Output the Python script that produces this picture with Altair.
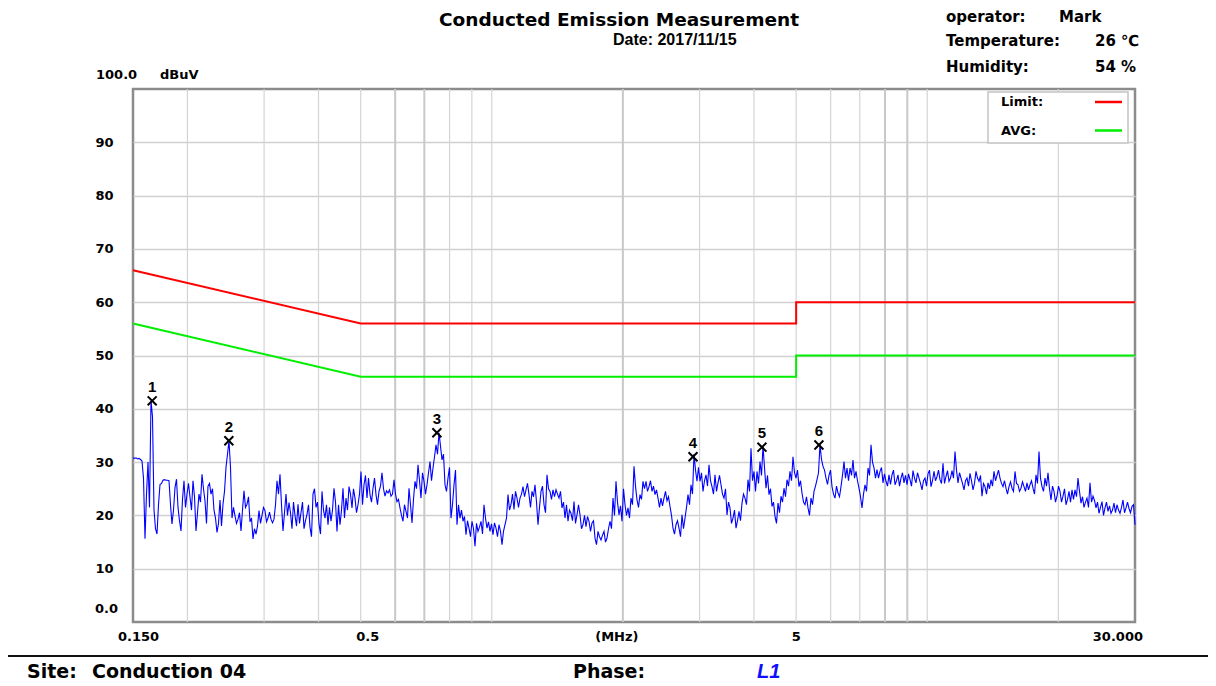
import altair as alt
import pandas as pd
import numpy as np

# ---------------- data ----------------
F_START, F_STOP = 0.15, 30.0  # sweep range, MHz

LEVELS = [
    30.8, 30.8, 30.7, 30.2, 15.6, 30.0, 41.5, 21.0, 16.5, 25.8,
    26.6, 26.6, 26.5, 18.4, 25.2, 21.5, 17.1, 26.5, 24.0, 23.4,
    26.5, 17.1, 24.0, 27.7, 22.7, 25.5, 24.0, 21.0, 16.8, 22.9,
    22.1, 29.0, 34.0, 19.5, 19.9, 19.3, 17.1, 24.6, 22.1, 18.8,
    15.6, 16.5, 20.9, 20.0, 20.9, 19.5, 19.3, 19.3, 26.5, 27.7,
    17.1, 24.0, 22.4, 17.5, 20.0, 22.1, 20.5, 17.5, 20.2, 17.8,
    24.0, 21.5, 18.4,
    24.5, 19.5, 18.25, 18.9, 25.1, 17.0, 18.25,
    25.1, 23.25, 25.4, 21.4, 23.25, 22.0, 28.25, 25.75, 23.25, 23.9,
    25.1, 23.9, 24.5, 28.0, 23.6, 24.2, 23.6, 26.7, 22.6, 21.4,
    18.9, 20.75, 25.1, 18.6, 26.4, 29.5, 23.25, 26.4, 25.75, 30.1,
    28.9, 33.25, 35.5, 30.4, 25.75, 27.0, 19.5, 25.75, 18.25, 19.5,
    18.9, 16.4, 17.6, 18.9, 14.2, 17.0, 18.9, 22.0, 17.6, 17.0,
    16.4, 17.6, 18.25, 14.5, 18.25, 23.9, 22.0, 21.1, 23.25, 23.25,
    25.4, 24.8, 23.9, 24.5, 25.75, 18.25, 24.5, 22.0, 27.6, 24.5,
    24.8, 24.8, 23.25, 21.4, 19.5, 18.9, 20.4, 22.6, 20.1, 20.1,
    18.25, 17.9, 18.9, 18.6, 15.75, 17.0, 15.4, 17.0, 15.75, 18.9,
    23.25, 26.4, 20.1, 18.9, 22.0, 21.4, 23.25, 29.2, 22.9, 23.9,
    26.4, 26.4, 25.4, 24.5, 23.9, 23.25,
    23.25, 23.25, 22.75, 21.7,
    17.6, 18.25, 17.6, 20.1, 19.5, 23.9, 25.75, 31.5, 26.4, 26.4,
    24.5, 27.6, 29.5, 25.4, 27.6, 26.1, 25.75, 23.25, 20.1, 21.4,
    19.5, 17.6, 20.75, 22.3, 23.25, 26.7, 32.6, 28.25, 28.25, 30.1,
    33.0, 25.1, 23.9, 21.7, 19.8, 22.3, 23.6, 25.1, 26.7, 28.25,
    31.0, 27.0, 25.4, 24.2, 22.0, 21.4, 23.25, 24.5, 26.7, 33.3,
    29.2, 27.0, 27.5, 25.4, 23.25, 24.2, 25.4, 30.1, 28.9,
    28.9, 30.4, 28.25, 25.1, 21.4, 25.75, 28.9, 33.25, 28.9, 28.6, 28.25,
    26.1, 26.4, 27.6, 27.6, 25.75, 27.6, 27.0, 26.1, 25.75, 26.7,
    28.4, 26.1, 27.0, 24.8, 27.0, 27.8, 25.4, 28.25, 27.3, 26.7,
    29.8, 27.3, 26.4, 28.4, 32.0, 26.1, 27.0, 24.8, 27.0, 27.9,
    24.8, 28.25, 26.4, 23.6, 25.4, 26.1, 26.7, 28.25, 27.5, 27.0,
    25.4, 25.1, 25.4, 25.1, 28.25, 25.75, 25.1, 25.4, 26.1, 25.75,
    25.1, 27.6, 32.0, 25.4, 27.0, 28.0, 22.9, 24.5, 23.6, 24.5,
    23.6, 22.0, 24.5, 24.8, 24.8, 27.0, 22.3, 21.5, 23.25, 26.1,
    23.6, 21.4, 20.4, 22.6, 21.4, 20.75, 20.4, 22.3, 22.0, 20.4,
    22.9, 21.4, 21.3, 21.7, 18.25,
]

# measured level (dBuV) at the odd sweep steps (between the ones above)
LEVELS_MID = [
    30.7, 30.6, 30.5, 27.0, 24.0, 21.5, 38.5, 17.5, 22.0, 26.0,
    26.7, 26.6, 22.0, 21.0, 26.8, 19.0, 23.0, 21.5, 26.0, 21.0,
    23.5, 20.5, 22.5, 25.0, 18.5, 26.0, 25.0, 19.5, 18.5, 18.0,
    24.5, 31.5, 29.0, 21.5, 18.5, 20.5, 21.0, 21.5, 23.5, 19.5,
    17.5, 18.0, 18.5, 21.5, 18.8, 20.6, 18.6, 22.0, 24.0, 22.0,
    20.5, 20.0, 20.5, 22.5, 18.0, 18.5, 22.5, 19.0, 22.0, 16.0,
    25.0, 22.5, 16.5, 21.0, 22.0, 21.5, 21.0, 22.5, 22.0, 21.0,
    19.5, 21.0, 24.0, 25.0, 20.5, 24.0, 22.0, 27.5, 27.0, 22.5,
    27.0, 22.0, 25.5, 25.0, 24.6, 24.8, 24.0, 24.0, 23.0, 20.0,
    22.0, 19.5, 22.0, 23.0, 25.0, 26.5, 28.0, 24.0, 28.0, 26.5,
    31.0, 31.5, 33.0, 31.5, 24.5, 29.0, 22.0, 28.5, 22.0, 21.0,
    19.8, 19.0, 16.0, 17.5, 18.5, 17.8, 16.5, 19.5, 18.8, 18.4,
    18.6, 16.0, 17.0, 17.0, 19.5, 21.0, 24.0, 24.5, 21.5, 24.0,
    23.5, 26.0, 21.5, 23.5, 22.5, 21.5, 25.5, 20.5, 25.0, 23.0,
    23.5, 24.0, 24.5, 22.5, 22.0, 21.0, 19.0, 18.5, 22.0, 17.5,
    20.0, 19.8, 17.0, 19.0, 14.5, 16.0, 16.3, 15.0, 17.5, 17.5,
    20.0, 22.5, 21.8, 25.0, 20.0, 19.5, 22.0, 25.5, 21.5, 23.0,
    25.0, 24.5, 26.5, 25.5, 24.8, 21.5, 21.8, 24.5, 23.5, 20.0,
    16.5, 19.0, 16.0, 17.5, 21.5, 22.0, 24.0, 28.5, 29.0, 28.0,
    26.5, 25.5, 26.5, 24.0, 24.5, 27.5, 24.0, 25.0, 22.5, 18.5,
    21.0, 19.0, 19.0, 24.0, 22.0, 24.5, 26.5, 24.5, 26.0, 27.5,
    29.0, 27.5, 25.0, 22.5, 18.5, 20.5, 22.5, 23.5, 25.5, 26.5,
    28.0, 28.5, 26.5, 22.5, 23.5, 20.0, 22.0, 25.5, 28.0, 30.5,
    28.5, 25.8, 28.5, 24.0, 25.5, 23.5, 27.5, 27.0, 26.5, 27.5,
    27.0, 26.5, 23.5, 24.0, 24.5, 27.5, 30.0, 27.0, 27.0, 29.0,
    27.8, 25.5, 25.8, 28.5, 26.5, 25.5, 28.0, 27.5, 27.8, 25.5,
    27.0, 28.0, 26.0, 26.5, 25.5, 28.5, 26.5, 26.5, 28.5, 26.0,
    26.0, 28.4, 27.0, 27.0, 28.5, 28.0, 26.0, 26.5, 25.5, 26.5,
    26.0, 27.0, 27.5, 26.0, 24.0, 25.0, 25.5, 26.5, 28.5, 26.0,
    26.5, 24.0, 26.3, 24.5, 26.0, 24.5, 26.3, 24.5, 24.8, 26.5,
    24.0, 26.0, 27.0, 24.5, 25.5, 25.0, 25.5, 22.5, 25.5, 22.5,
    25.0, 23.0, 22.5, 23.0, 23.5, 24.5, 23.5, 22.5, 21.5, 22.5,
    22.8, 22.5, 21.5, 20.0, 22.5, 21.8, 21.0, 20.5, 21.0, 21.5,
    20.5, 22.5, 20.5, 22.0,
]

MARK_ID = ["1", "2", "3", "4", "5", "6"]
MARK_FREQ = [0.166, 0.249, 0.748, 2.898, 4.173, 5.640]
MARK_LEVEL = [41.5, 34.0, 35.5, 31.0, 32.8, 33.2]

LIMIT_FREQ = [0.15, 0.5, 5.0, 5.0, 30.0]
LIMIT_QP = [66, 56, 56, 60, 60]
LIMIT_AVG = [56, 46, 46, 50, 50]

Y_TICKS = [10, 20, 30, 40, 50, 60, 70, 80, 90]
GRID_MINOR = [0.2, 0.3, 0.4, 0.5, 0.8, 0.9, 1, 3, 4, 5, 6, 7, 10, 20]
GRID_MAJOR = [0.6, 0.7, 2, 8, 9]

TITLE = "Conducted Emission Measurement"
DATE = "Date: 2017/11/15"
INFO_KEYS = ["operator:", "Temperature:", "Humidity:"]
INFO_VALS = ["Mark", "26 ℃", "54 %"]

# ---------------- frames ----------------
n = len(LEVELS) + len(LEVELS_MID)
vals = np.empty(n)
vals[0::2] = LEVELS
vals[1::2] = LEVELS_MID
freq = np.geomspace(F_START, F_STOP, n)
trace = pd.DataFrame({"f": freq, "v": vals})
marks = pd.DataFrame({"f": MARK_FREQ, "v": MARK_LEVEL, "id": MARK_ID})
limits = pd.DataFrame({"f": LIMIT_FREQ, "qp": LIMIT_QP, "avg": LIMIT_AVG,
                       "o": list(range(len(LIMIT_FREQ)))})
gmin = pd.DataFrame({"f": GRID_MINOR})
gmaj = pd.DataFrame({"f": GRID_MAJOR})
ONE = pd.DataFrame({"a": [0]})

W, H = 1002, 533
XS = alt.Scale(type="log", domain=[F_START, F_STOP], nice=False)
YS = alt.Scale(domain=[0, 100], nice=False, zero=False)
BOLD = "DejaVu Sans"


def X():
    return alt.X("f:Q", scale=XS, axis=None)


def label(txt, x, y, size=13, font=BOLD, weight="bold", align="left",
          color="black", style="normal", baseline="middle"):
    return alt.Chart(ONE).mark_text(
        text=txt, align=align, baseline=baseline, font=font, fontSize=size,
        fontWeight=weight, color=color, fontStyle=style
    ).encode(x=alt.value(x), y=alt.value(y))


def xlabel(f, txt, dx, align="center"):
    return alt.Chart(pd.DataFrame({"f": [f]})).mark_text(
        text=txt, align=align, dx=dx, font=BOLD, fontWeight="bold", fontSize=13,
        color="black", baseline="middle").encode(x=X(), y=alt.value(H + 14.5))


grid_minor = alt.Chart(gmin).mark_rule(color="#d4d4d4", strokeWidth=1.2).encode(x=X())
grid_major = alt.Chart(gmaj).mark_rule(color="#c8c8c8", strokeWidth=2).encode(x=X())

trace_line = alt.Chart(trace).mark_line(color="#0000ff", strokeWidth=1.1).encode(
    x=X(),
    y=alt.Y("v:Q", scale=YS, title=None,
            axis=alt.Axis(values=Y_TICKS, labelAlign="left", labelPadding=38,
                          ticks=False, domain=False, grid=True,
                          gridColor="#d0d0d0", gridWidth=1.5,
                          labelFont=BOLD, labelFontWeight="bold",
                          labelFontSize=13, labelColor="black")),
)

qp_line = alt.Chart(limits).mark_line(color="#ff0000", strokeWidth=2).encode(
    x=X(), y=alt.Y("qp:Q", scale=YS), order="o:Q")
avg_line = alt.Chart(limits).mark_line(color="#00ee00", strokeWidth=2).encode(
    x=X(), y=alt.Y("avg:Q", scale=YS), order="o:Q")

mark_x = alt.Chart(marks).mark_point(
    shape="M-1,-1L1,1M-1,1L1,-1", size=80, filled=False, color="black",
    strokeWidth=2, opacity=1
).encode(x=X(), y=alt.Y("v:Q", scale=YS))
mark_t = alt.Chart(marks).mark_text(
    dy=-14, font="Liberation Sans", fontWeight="bold", fontSize=15, color="black"
).encode(x=X(), y=alt.Y("v:Q", scale=YS), text="id:N")

xlabels = [
    xlabel(F_START, "0.150", -15, "left"),
    xlabel(0.5, "0.5", 7),
    xlabel(2.0, "(MHz)", -6),
    xlabel(5.0, "5", 0),
    xlabel(F_STOP, "30.000", 8, "right"),
]

# legend box
leg_box = alt.Chart(ONE).mark_rect(fill="white", stroke="#c4c4c4", strokeWidth=1.5).encode(
    x=alt.value(855), x2=alt.value(995), y=alt.value(3), y2=alt.value(54))
leg_red = alt.Chart(ONE).mark_rule(color="#ff0000", strokeWidth=2.5).encode(
    x=alt.value(962), x2=alt.value(989), y=alt.value(13))
leg_green = alt.Chart(ONE).mark_rule(color="#00ee00", strokeWidth=2.5).encode(
    x=alt.value(962), x2=alt.value(989), y=alt.value(41.5))

sep = alt.Chart(ONE).mark_rule(color="#111111", strokeWidth=2).encode(
    x=alt.value(-125), x2=alt.value(1075), y=alt.value(567))

A = "alphabetic"
texts = [
    label(TITLE, 486, -63.5, size=18.5, align="center", baseline=A),
    label(DATE, 480, -44, size=16, font="Liberation Sans", baseline=A),
    label(INFO_KEYS[0], 813, -67, size=15, baseline=A),
    label(INFO_VALS[0], 926, -67, size=15, baseline=A),
    label(INFO_KEYS[1], 813, -43, size=15, baseline=A),
    label(INFO_VALS[1], 962, -43, size=15, baseline=A),
    label(INFO_KEYS[2], 813, -17, size=15, baseline=A),
    label(INFO_VALS[2], 962, -17, size=15, baseline=A),
    label("100.0", -37, -14),
    label("dBuV", 27, -14),
    label("0.0", -38, 520),
    label("Limit:", 868, 13),
    label("AVG:", 868, 41.5),
    label("Site:", -106, 589, size=19, baseline=A),
    label("Conduction 04", -41, 589, size=19, baseline=A),
    label("Phase:", 440, 589, size=19, baseline=A),
    label("L1", 624, 589, size=20, font="Liberation Sans", style="italic",
          color="#1010ff", baseline=A),
]

chart = alt.layer(
    grid_minor, grid_major, qp_line, avg_line, trace_line, mark_x, mark_t,
    *xlabels, leg_box, leg_red, leg_green, sep, *texts
).properties(
    width=W, height=H,
    autosize=alt.AutoSizeParams(type="none"),
    padding={"left": 125, "top": 81, "right": 73, "bottom": 62},
).configure_view(stroke="#8c8c8c", strokeWidth=2.5)

chart.save("out.html", embed_options={"renderer": "svg", "actions": False})
